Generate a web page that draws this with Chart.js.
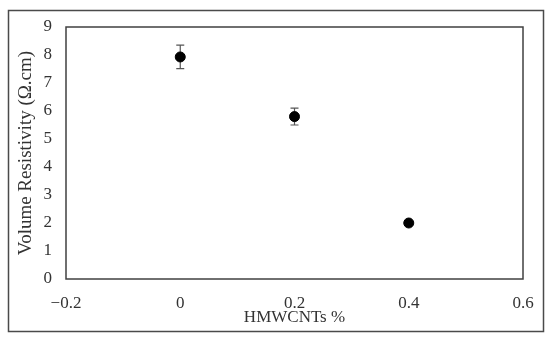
<!DOCTYPE html>
<html>
<head>
<meta charset="utf-8">
<script src="https://cdn.jsdelivr.net/npm/chart.js@4"></script>
<style>
html,body{margin:0;padding:0;background:#fff;}
#wrap{width:550px;height:339px;position:relative;}
</style>
</head>
<body>
<div id="wrap"><canvas id="c" width="550" height="339"></canvas></div>
<script>
const xValues = [0, 0.2, 0.4];
const yValues = [7.93, 5.8, 2.0];
const yErrors = [0.42, 0.3, 0.0];
const xTickValues = [-0.2, 0, 0.2, 0.4, 0.6];
const xTickLabels = ['\u22120.2', '0', '0.2', '0.4', '0.6'];
const yTickLabels = ['0','1','2','3','4','5','6','7','8','9'];

const FONT = 'Liberation Serif, Times New Roman, serif';
const TEXT = '#333333';

const frame = {
  id: 'frame',
  beforeDraw(chart) {
    const ctx = chart.ctx;
    ctx.save();
    ctx.fillStyle = '#fff';
    ctx.fillRect(0, 0, chart.width, chart.height);
    ctx.strokeStyle = '#4a4a4a';
    ctx.lineWidth = 1.5;
    ctx.strokeRect(8.5, 10.5, 535, 321);
    ctx.restore();
  },
  afterDatasetsDraw(chart) {
    const ctx = chart.ctx;
    const a = chart.chartArea;
    ctx.save();
    ctx.strokeStyle = '#404040';
    ctx.lineWidth = 1.5;
    ctx.strokeRect(a.left, a.top, a.right - a.left, a.bottom - a.top);
    ctx.restore();
  }
};

const errorBars = {
  id: 'errorBars',
  beforeDatasetsDraw(chart) {
    const ctx = chart.ctx;
    const xs = chart.scales.x, ys = chart.scales.y;
    ctx.save();
    ctx.strokeStyle = '#555555';
    ctx.lineWidth = 1.2;
    xValues.forEach((xv, i) => {
      const e = yErrors[i];
      if (!e) return;
      const px = xs.getPixelForValue(xv);
      const top = ys.getPixelForValue(yValues[i] + e);
      const bot = ys.getPixelForValue(yValues[i] - e);
      ctx.beginPath();
      ctx.moveTo(px, top); ctx.lineTo(px, bot);
      ctx.moveTo(px - 4, top); ctx.lineTo(px + 4, top);
      ctx.moveTo(px - 4, bot); ctx.lineTo(px + 4, bot);
      ctx.stroke();
    });
    ctx.restore();
  }
};

new Chart(document.getElementById('c'), {
  type: 'scatter',
  data: {
    datasets: [{
      data: xValues.map((x, i) => ({x: x, y: yValues[i]})),
      backgroundColor: '#000',
      borderColor: '#000',
      pointRadius: 5,
      pointHoverRadius: 5
    }]
  },
  options: {
    responsive: false,
    animation: false,
    events: [],
    layout: { padding: { left: 10, right: 27, top: 27, bottom: 11 } },
    plugins: { legend: { display: false }, tooltip: { enabled: false } },
    scales: {
      x: {
        type: 'linear',
        min: -0.2, max: 0.6,
        afterBuildTicks(scale) { scale.ticks = xTickValues.map(v => ({value: v})); },
        afterFit(scale) { scale.height = 49; },
        grid: { display: false, drawTicks: false },
        border: { display: false },
        ticks: {
          padding: 14,
          color: TEXT,
          font: { family: FONT, size: 17 },
          maxRotation: 0,
          callback: (v, i) => xTickLabels[i]
        },
        title: {
          display: true,
          text: 'HMWCNTs %',
          color: TEXT,
          font: { family: FONT, size: 17 },
          padding: { top: 0, bottom: 0 }
        }
      },
      y: {
        type: 'linear',
        min: 0, max: 9,
        afterBuildTicks(scale) { scale.ticks = yTickLabels.map((t, i) => ({value: i})); },
        afterFit(scale) { scale.width = 56; },
        grid: { display: false, drawTicks: false },
        border: { display: false },
        ticks: {
          padding: 14,
          color: TEXT,
          font: { family: FONT, size: 17 },
          callback: (v, i) => yTickLabels[i]
        },
        title: {
          display: true,
          text: 'Volume Resistivity (Ω.cm)',
          color: TEXT,
          font: { family: FONT, size: 19 },
          padding: { top: 5, bottom: 0 }
        }
      }
    }
  },
  plugins: [frame, errorBars]
});
</script>
</body>
</html>
